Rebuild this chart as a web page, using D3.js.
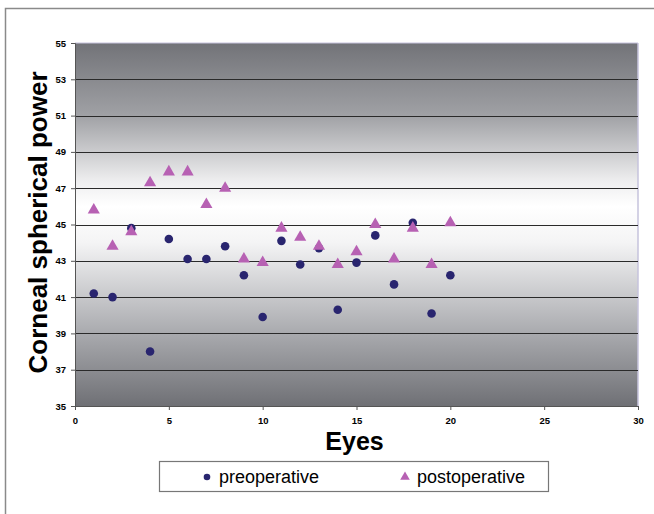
<!DOCTYPE html>
<html><head><meta charset="utf-8">
<script src="https://cdn.jsdelivr.net/npm/d3@7"></script>
<style>body{margin:0;background:#fff;}svg{display:block;}</style>
</head><body>
<script>
const eyes = [1,2,3,4,5,6,7,8,9,10,11,12,13,14,15,16,17,18,19,20];
const preoperative = [41.2,41.0,44.8,38.0,44.2,43.1,43.1,43.8,42.2,39.9,44.1,42.8,43.7,40.3,42.9,44.4,41.7,45.1,40.1,42.2];
const postoperative = [45.8,43.8,44.6,47.3,47.9,47.9,46.1,47.0,43.1,42.9,44.8,44.3,43.8,42.8,43.5,45.0,43.1,44.8,42.8,45.1];
const xTicks = [0,5,10,15,20,25,30];
const yTicks = [35,37,39,41,43,45,47,49,51,53,55];

const W=654,H=514;
const svg=d3.select("body").append("svg").attr("width",W).attr("height",H);
svg.append("rect").attr("x",5.5).attr("y",8.5).attr("width",660).attr("height",520)
  .attr("fill","#fff").attr("stroke","#8a8a8a").attr("stroke-width",1.5);

const L=75,R=638,T=43,B=406;
const x=d3.scaleLinear().domain([0,30]).range([L,R]);
const y=d3.scaleLinear().domain([35,55]).range([B,T]);

const defs=svg.append("defs");
const g=defs.append("linearGradient").attr("id","bg").attr("x1",0).attr("y1",0).attr("x2",0).attr("y2",1);
[[0,"#727378"],[0.2,"#a0a1a5"],[0.38,"#eeeeef"],[0.45,"#ffffff"],[0.55,"#f4f4f5"],[0.8,"#a9aaae"],[1,"#6f7075"]]
  .forEach(([o,c])=>g.append("stop").attr("offset",o).attr("stop-color",c));
svg.append("rect").attr("x",L).attr("y",T).attr("width",R-L).attr("height",B-T).attr("fill","url(#bg)");
svg.append("line").attr("x1",R).attr("x2",R).attr("y1",T).attr("y2",B).attr("stroke","#c6c3dd").attr("stroke-width",1.5);
svg.append("line").attr("x1",L).attr("x2",R).attr("y1",T).attr("y2",T).attr("stroke","#c6c3dd").attr("stroke-width",1);

svg.append("g").selectAll("line").data(yTicks.filter(d=>d>35&&d<55)).join("line")
  .attr("x1",L).attr("x2",R).attr("y1",d=>Math.round(y(d))+0.5).attr("y2",d=>Math.round(y(d))+0.5)
  .attr("stroke","#2a2a2a").attr("stroke-width",1);

const ya=svg.append("g").attr("transform",`translate(${L},0)`)
  .call(d3.axisLeft(y).tickValues(yTicks).tickSize(4).tickFormat(d3.format("d")));
const xa=svg.append("g").attr("transform",`translate(0,${B})`)
  .call(d3.axisBottom(x).tickValues(xTicks).tickSize(4).tickFormat(d3.format("d")));
[ya,xa].forEach(a=>{
  a.select(".domain").attr("stroke","#555");
  a.selectAll(".tick line").attr("stroke","#555");
  a.selectAll("text").attr("font-family","Liberation Sans, Arial, sans-serif").attr("font-weight","bold")
   .attr("font-size",9.5).attr("fill","#000");
});
ya.selectAll("text").attr("x",-9);
xa.selectAll("text").attr("y",11);

svg.append("text").attr("transform",`translate(47,${(T+B)/2-2}) rotate(-90)`).attr("text-anchor","middle")
  .attr("font-family","Liberation Sans, Arial, sans-serif").attr("font-weight","bold").attr("font-size",26)
  .text("Corneal spherical power");
svg.append("text").attr("x",(L+R)/2-2).attr("y",450).attr("text-anchor","middle")
  .attr("font-family","Liberation Sans, Arial, sans-serif").attr("font-weight","bold").attr("font-size",25)
  .text("Eyes");

const circColor="#29256f", triColor="#b761b3";
svg.append("g").selectAll("circle").data(eyes).join("circle")
  .attr("cx",(d)=>x(d)).attr("cy",(d,i)=>y(preoperative[i])).attr("r",4.3).attr("fill",circColor);
const tri=d3.symbol().type(d3.symbolTriangle).size(64);
svg.append("g").selectAll("path").data(eyes).join("path")
  .attr("d",tri).attr("transform",(d,i)=>`translate(${x(d)},${y(postoperative[i])})`).attr("fill",triColor);

svg.append("rect").attr("x",159.5).attr("y",461.5).attr("width",389).attr("height",30)
  .attr("fill","#fff").attr("stroke","#777").attr("stroke-width",1.2);
svg.append("circle").attr("cx",207).attr("cy",477).attr("r",3.3).attr("fill",circColor);
svg.append("text").attr("x",219).attr("y",483).attr("font-family","Liberation Sans, Arial, sans-serif")
  .attr("font-size",18).text("preoperative");
svg.append("path").attr("d",d3.symbol().type(d3.symbolTriangle).size(40)).attr("transform","translate(405,477)").attr("fill",triColor);
svg.append("text").attr("x",417).attr("y",483).attr("font-family","Liberation Sans, Arial, sans-serif")
  .attr("font-size",18).text("postoperative");
</script>
</body></html>
